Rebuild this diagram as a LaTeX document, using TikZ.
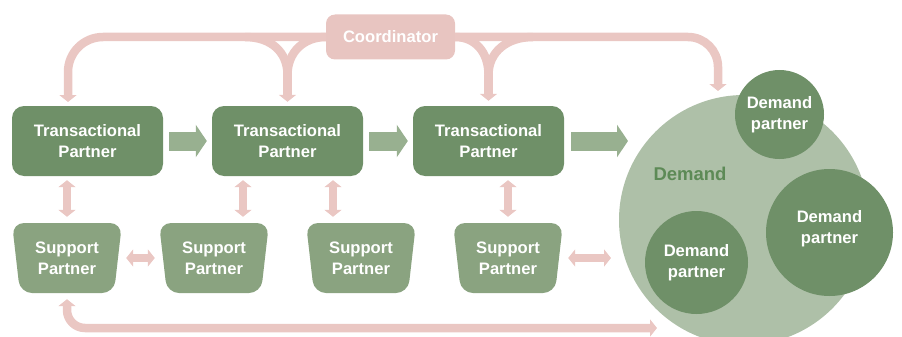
\documentclass[tikz,border=0pt]{standalone}
\usepackage{fontspec}
\setmainfont{Liberation Sans}
\usetikzlibrary{arrows.meta,calc}
\definecolor{tpc}{HTML}{6F9068}
\definecolor{spc}{HTML}{8AA380}
\definecolor{demc}{HTML}{AEC0A8}
\definecolor{garc}{HTML}{98B090}
\definecolor{pinkc}{HTML}{EAC7C3}
\definecolor{coordc}{HTML}{E8C5C1}
\definecolor{demtc}{HTML}{5D8A56}
\tikzset{
  lbl/.style={font=\bfseries\fontsize{16.6}{21}\selectfont, text=white, align=center, inner sep=0pt},
  tpbox/.style={lbl, fill=tpc, rounded corners=12pt, minimum width=151pt, minimum height=70pt},
  coordbox/.style={lbl, fill=coordc, rounded corners=9pt, minimum width=129pt, minimum height=45pt},
  spbox/.style={lbl, minimum width=110pt, minimum height=70pt,
    path picture={\fill[spc, rounded corners=12pt]
      (path picture bounding box.north west) -- (path picture bounding box.north east)
      -- ([xshift=-8pt]path picture bounding box.south east)
      -- ([xshift=8pt]path picture bounding box.south west) -- cycle;}},
  bigcirc/.style={circle, fill=demc, inner sep=0pt, minimum size=250pt},
  dpcirc/.style={lbl, circle, fill=tpc},
  pinkarr/.style={draw=pinkc, line width=8.5pt, >={Triangle[width=17pt,length=7pt]}},
  garr/.style={draw=garc, line width=19pt, -{Triangle[width=32pt,length=11pt]}},
}
\begin{document}
\begin{tikzpicture}[x=1pt,y=-1pt]
\useasboundingbox (0,0) rectangle (902,337);
% demand area
\node[bigcirc] (dem) at (744,220) {};
\node[lbl, text=demtc, font=\bfseries\fontsize{18.5}{22}\selectfont] (demlbl) at (690,174) {Demand};
\node[dpcirc, minimum size=89pt] (dp1) at (779.5,114.5) {Demand\\partner};
\node[dpcirc, minimum size=127pt, label={[lbl,yshift=4pt]center:{Demand\\partner}}] (dp2) at (829.5,232.5) {};
\node[dpcirc, minimum size=103pt] (dp3) at (696.5,262.5) {Demand\\partner};
% nodes
\node[coordbox] (coord) at (390.5,37) {Coordinator};
\node[tpbox] (tp1) at (87.5,141) {Transactional\\Partner};
\node[tpbox] (tp2) at (287.5,141) {Transactional\\Partner};
\node[tpbox] (tp3) at (488.5,141) {Transactional\\Partner};
\node[spbox] (sp1) at (67,258) {Support\\Partner};
\node[spbox] (sp2) at (214,258) {Support\\Partner};
\node[spbox] (sp3) at (361,258) {Support\\Partner};
\node[spbox] (sp4) at (508,258) {Support\\Partner};
% free ends
\coordinate (c1) at (68,106);
\coordinate (c2) at (718,91);
\coordinate (c3) at (657,328);
\coordinate (c4) at (611,258);
\coordinate (c5) at (628,141);
\coordinate (f1) at ($(tp2.north)+(0,-31)$);
\coordinate (f2) at ($(tp3.north)+(0,-31)$);
\coordinate (b1) at (245,37);
\coordinate (b2) at (533,37);
\coordinate (v2) at ($(tp2.south)+(-44.5,0)$);
\coordinate (v3) at ($(tp2.south)+(45.5,0)$);
% green flow arrows
\draw[garr, shorten <=6pt, shorten >=5pt] (tp1) -- (tp2);
\draw[garr, shorten <=6pt, shorten >=5pt] (tp2) -- (tp3);
\draw[garr, shorten <=7pt] (tp3.east) -- (c5);
% coordinator arrows
\draw[pinkarr, ->, rounded corners=35pt, shorten >=4pt] (coord.west) -| (c1);
\draw[pinkarr, ->, rounded corners=30pt] (coord.east) -| (c2);
\draw[pinkarr] (b1) .. controls (271,37) and (287.5,52) .. (f1);
\draw[pinkarr] (coord.west) .. controls (304,37) and (287.5,52) .. (f1);
\draw[pinkarr, ->, shorten >=4pt] (f1) -- (tp2.north);
\draw[pinkarr] (coord.east) .. controls (475,37) and (488.5,52) .. (f2);
\draw[pinkarr] (b2) .. controls (507,37) and (488.5,52) .. (f2);
\draw[pinkarr, ->, shorten >=5pt] (f2) -- (tp3.north);
% transactional - support
\draw[pinkarr, <->, shorten <=4pt, shorten >=6pt] (tp1.south -| sp1.north) -- (sp1.north);
\draw[pinkarr, <->, shorten <=4pt, shorten >=6pt] (v2) -- (v2 |- sp2.north);
\draw[pinkarr, <->, shorten <=4pt, shorten >=6pt] (v3) -- (v3 |- sp3.north);
\draw[pinkarr, <->, shorten <=4pt, shorten >=6pt] (sp4.north |- tp3.south) -- (sp4.north);
% support links
\draw[pinkarr, <->, shorten <=4pt, shorten >=4pt] (sp1.east) -- (sp2.west);
\draw[pinkarr, <->, shorten <=5pt] (sp4.east) -- (c4);
\draw[pinkarr, <->, rounded corners=18pt, shorten <=6pt] (sp1.south) |- (c3);
\end{tikzpicture}
\end{document}
